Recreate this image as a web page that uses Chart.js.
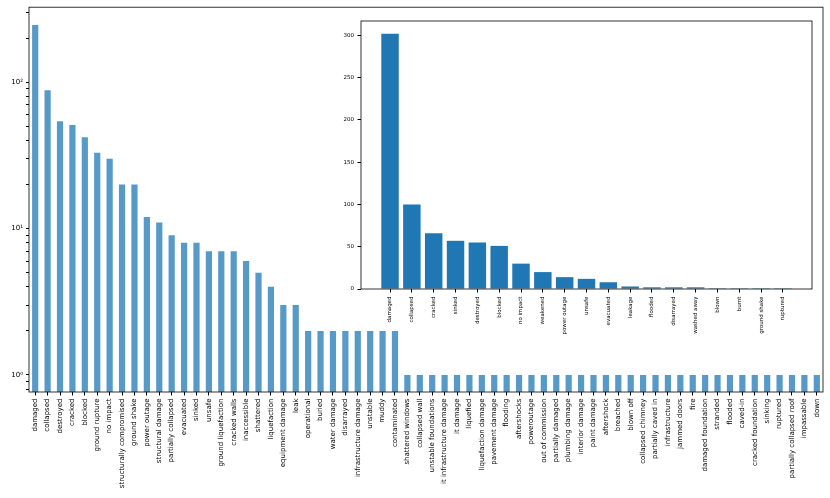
<!DOCTYPE html>
<html>
<head>
<meta charset="utf-8">
<script src="https://cdn.jsdelivr.net/npm/chart.js@4"></script>
<style>
  body { margin: 0; background: #fff; }
  #wrap { position: relative; width: 830px; height: 498px; }
  canvas { position: absolute; left: 0; top: 0; }
</style>
</head>
<body>
<div id="wrap">
  <canvas id="mainChart" width="830" height="498"></canvas>
  <canvas id="insetChart" width="830" height="498"></canvas>
</div>
<script>
// main chart (log scale)
const labels = ['damaged', 'collapsed', 'destroyed', 'cracked', 'blocked', 'ground rupture', 'no impact',
  'structurally compromised', 'ground shake', 'power outage', 'structural damage', 'partially collapsed',
  'evacuated', 'sinked', 'unsafe', 'ground liquefaction', 'cracked walls', 'inaccessible', 'shattered',
  'liquefaction', 'equipment damage', 'leak', 'operational', 'buried', 'water damage', 'disarrayed',
  'infrastructure damage', 'unstable', 'muddy', 'contaminated', 'shattered windows', 'collapsed wall',
  'unstable foundations', 'it infrastructure damage', 'it damage', 'liquefied', 'liquefaction damage',
  'pavement damage', 'flooding', 'aftershocks', 'poweroutage', 'out of commission', 'partially damaged',
  'plumbing damage', 'interior damage', 'paint damage', 'aftershock', 'breached', 'blown off',
  'collapsed chimney', 'partially caved in', 'infrastructure', 'jammed doors', 'fire', 'damaged foundation',
  'stranded', 'flooded', 'caved-in', 'cracked foundation', 'sinking', 'ruptured', 'partially collapsed roof',
  'impassable', 'down'];
const counts = [246, 88, 54, 51, 42, 33, 30, 20, 20, 12, 11, 9, 8, 8, 7, 7, 7, 6, 5, 4, 3, 3,
  2, 2, 2, 2, 2, 2, 2, 2,
  1, 1, 1, 1, 1, 1, 1, 1, 1, 1, 1, 1, 1, 1, 1, 1, 1, 1, 1, 1, 1, 1, 1, 1, 1, 1, 1, 1, 1, 1, 1, 1, 1, 1];
const logTicks = [0.8, 0.9, 1, 2, 3, 4, 5, 6, 7, 8, 9, 10, 20, 30, 40, 50, 60, 70, 80, 90, 100, 200, 300];

// inset chart (linear scale)
const insetLabels = ['damaged', 'collapsed', 'cracked', 'sinked', 'destroyed', 'blocked', 'no impact',
  'weakened', 'power outage', 'unsafe', 'evacuated', 'leakage', 'flooded', 'disarrayed', 'washed away',
  'blown', 'burnt', 'ground shake', 'ruptured'];
const insetCounts = [302, 100, 66, 57, 55, 51, 30, 20, 14, 12, 8, 3, 2, 2, 2, 1, 1, 1, 1];
const insetYTicks = [0, 50, 100, 150, 200, 250, 300];

const FONT = 'DejaVu Sans';
const sup = { 0: '\u2070', 1: '\u00b9', 2: '\u00b2' };

// draw the 4-sided axes box, optionally fill white first
const frame = {
  id: 'frame',
  beforeDatasetsDraw(chart, args, opts) {
    if (opts.fill) {
      const a = chart.chartArea;
      chart.ctx.save();
      chart.ctx.fillStyle = '#fff';
      chart.ctx.fillRect(a.left, a.top, a.right - a.left, a.bottom - a.top);
      chart.ctx.restore();
    }
  },
  afterDraw(chart) {
    const a = chart.chartArea;
    const ctx = chart.ctx;
    ctx.save();
    ctx.strokeStyle = '#000';
    ctx.lineWidth = 0.8;
    ctx.strokeRect(a.left, a.top, a.right - a.left, a.bottom - a.top);
    ctx.restore();
  }
};
Chart.register(frame);

new Chart(document.getElementById('mainChart'), {
  type: 'bar',
  data: {
    labels: labels,
    datasets: [{
      data: counts,
      backgroundColor: 'rgba(31, 119, 180, 0.75)',
      barPercentage: 0.5,
      categoryPercentage: 1.0
    }]
  },
  options: {
    responsive: false,
    animation: false,
    layout: { padding: { top: 7, right: 7, left: 0, bottom: 0 } },
    plugins: { legend: { display: false }, tooltip: { enabled: false }, frame: { fill: false } },
    scales: {
      x: {
        offset: true,
        afterFit: s => { s.height = 106; },
        grid: { drawOnChartArea: false, offset: false, tickLength: 3.5, tickColor: '#000' },
        border: { display: false },
        ticks: { autoSkip: false, minRotation: 90, maxRotation: 90, padding: 3,
                 color: '#000', font: { family: FONT, size: 7 } }
      },
      y: {
        type: 'logarithmic',
        min: 0.765,
        max: 325,
        afterFit: s => { s.width = 29; },
        afterBuildTicks: s => { s.ticks = logTicks.map(v => ({ value: v })); },
        grid: { drawOnChartArea: false, tickLength: 3, tickColor: '#000' },
        border: { display: false },
        ticks: {
          autoSkip: false, padding: 3, color: '#000', font: { family: FONT, size: 7 },
          callback: v => {
            const e = Math.log10(v);
            return Math.abs(e - Math.round(e)) < 1e-9 ? '10' + sup[Math.round(e)] : '';
          }
        }
      }
    }
  }
});

new Chart(document.getElementById('insetChart'), {
  type: 'bar',
  data: {
    datasets: [{
      data: insetCounts.map((v, i) => ({ x: i, y: v })),
      backgroundColor: '#1f77b4',
      barPercentage: 0.8,
      categoryPercentage: 1.0
    }]
  },
  options: {
    responsive: false,
    animation: false,
    layout: { padding: { top: 21, right: 18, left: 331, bottom: 0 } },
    plugins: { legend: { display: false }, tooltip: { enabled: false }, frame: { fill: true } },
    scales: {
      x: {
        type: 'linear',
        offset: false,
        min: -1.33,
        max: 19.33,
        afterFit: s => { s.height = 209; },
        afterBuildTicks: s => { s.ticks = insetLabels.map((l, i) => ({ value: i })); },
        grid: { drawOnChartArea: false, offset: false, tickLength: 3.5, tickColor: '#000' },
        border: { display: false },
        ticks: { autoSkip: false, minRotation: 90, maxRotation: 90, padding: 4,
                 color: '#000', font: { family: FONT, size: 5.5 },
                 callback: v => insetLabels[v] }
      },
      y: {
        min: 0,
        max: 317,
        afterFit: s => { s.width = 30; },
        afterBuildTicks: s => { s.ticks = insetYTicks.map(v => ({ value: v })); },
        grid: { drawOnChartArea: false, tickLength: 3.5, tickColor: '#000' },
        border: { display: false },
        ticks: { padding: 3.5, color: '#000', font: { family: FONT, size: 5.5 } }
      }
    }
  }
});
</script>
</body>
</html>
